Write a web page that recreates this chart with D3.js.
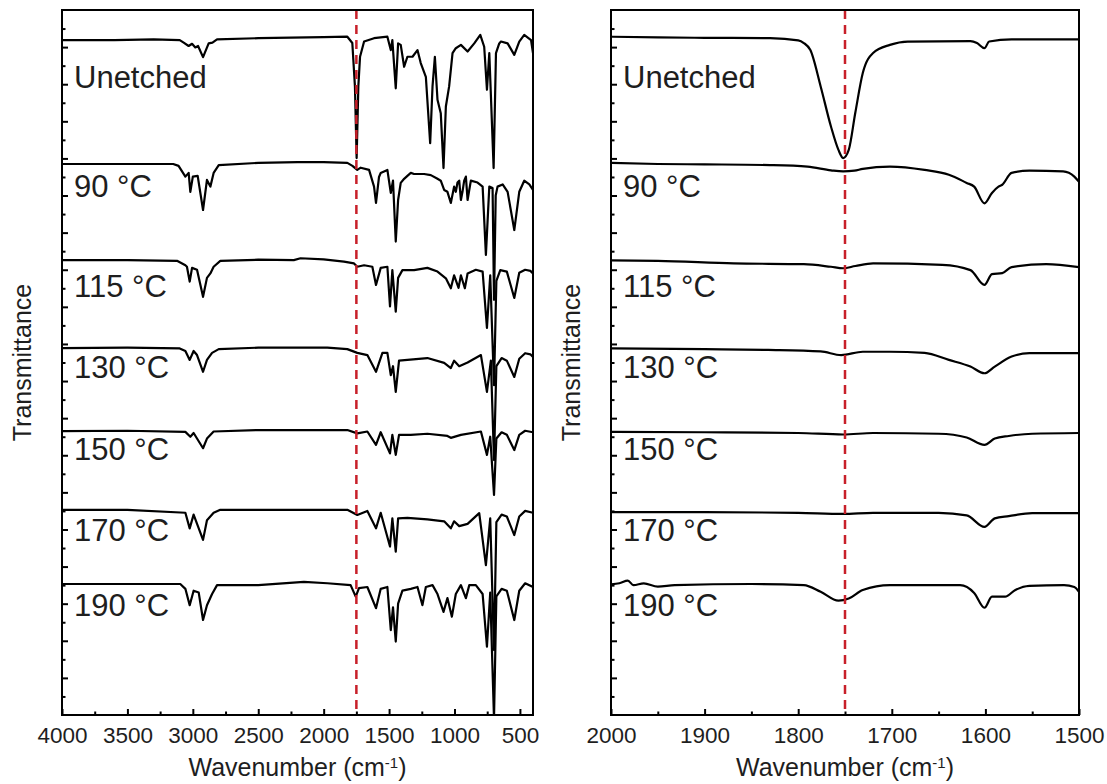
<!DOCTYPE html>
<html>
<head>
<meta charset="utf-8">
<script src="https://cdn.jsdelivr.net/npm/d3@7/dist/d3.min.js"></script>
<style>
  body { margin: 0; background: #fff; }
  svg text { font-family: "Liberation Sans", Arial, sans-serif; fill: #1e1e1e; }
</style>
</head>
<body>
<div id="chart"></div>
<script>
// sample names, top to bottom
var sampleLabels = ["Unetched", "90 °C", "115 °C", "130 °C", "150 °C", "170 °C", "190 °C"];

// full range spectra: [wavenumber (cm-1), transmittance incl. stacking offset]
var unetchedFull = [[4000,18.19],[3600,18.19],[3300,18.21],[3100,18.19],[3070,18.12],[3032,18.03],[3006,18.09],[2981,17.99],[2960,18.03],[2922,17.73],[2879,18.10],[2850,18.12],[2815,18.21],[2500,18.24],[2000,18.27],[1819,18.28],[1781,18.11],[1761,16.94],[1748,15.01],[1735,16.94],[1722,17.74],[1691,18.15],[1615,18.24],[1513,18.28],[1487,17.92],[1475,18.19],[1449,16.89],[1431,18.10],[1411,18.06],[1385,17.47],[1360,17.74],[1321,17.74],[1283,17.92],[1258,17.57],[1219,17.20],[1186,15.41],[1168,16.94],[1150,17.74],[1130,16.58],[1105,16.22],[1084,14.74],[1066,16.40],[1041,16.94],[1015,17.84],[990,17.97],[951,18.06],[900,17.88],[849,18.10],[803,18.33],[773,18.01],[752,16.85],[734,17.84],[701,14.74],[683,17.84],[658,18.10],[645,18.15],[594,18.10],[543,17.79],[505,18.15],[467,18.33],[415,18.19],[400,17.84]];
var t90Full = [[4000,14.85],[3500,14.85],[3150,14.85],[3109,14.80],[3057,14.51],[3032,14.61],[3019,14.10],[3000,14.51],[2963,14.53],[2922,13.61],[2892,14.42],[2866,14.24],[2841,14.61],[2802,14.82],[2500,14.88],[2200,14.90],[2000,14.90],[1819,14.88],[1780,14.80],[1743,14.69],[1717,14.75],[1653,14.69],[1615,14.24],[1600,13.80],[1577,14.50],[1564,14.61],[1513,14.69],[1487,14.07],[1470,14.40],[1449,12.76],[1431,13.88],[1411,14.34],[1385,14.45],[1360,14.53],[1334,14.61],[1309,14.58],[1232,14.58],[1181,14.55],[1130,14.45],[1105,14.40],[1079,14.15],[1054,14.10],[1028,13.80],[1003,14.24],[990,14.10],[977,14.35],[964,14.40],[951,13.88],[939,14.10],[926,14.40],[913,14.51],[900,13.88],[875,14.40],[824,14.35],[785,14.24],[760,12.40],[734,14.24],[709,14.20],[698,11.19],[685,14.00],[671,14.24],[632,14.30],[594,14.10],[543,13.07],[505,14.10],[467,14.40],[428,14.30],[400,14.15]];
var t115Full = [[4000,12.26],[3500,12.26],[3121,12.24],[3057,12.12],[3045,12.08],[3024,11.68],[3006,12.05],[2968,12.00],[2922,11.27],[2892,11.78],[2866,11.90],[2841,12.08],[2790,12.24],[2500,12.27],[2228,12.26],[2177,12.31],[2000,12.28],[1845,12.22],[1768,12.17],[1743,12.08],[1691,12.12],[1628,12.08],[1600,11.59],[1564,12.05],[1513,12.08],[1493,11.01],[1475,11.99],[1449,10.87],[1431,11.78],[1398,11.99],[1309,11.99],[1207,12.05],[1130,11.95],[1066,11.77],[1028,11.50],[1003,11.85],[969,11.51],[951,11.85],[921,11.50],[900,11.90],[837,12.00],[785,11.95],[752,10.43],[727,11.85],[698,8.89],[680,11.70],[650,11.99],[600,11.95],[543,11.24],[505,11.92],[460,12.00],[420,11.97],[400,11.90]];
var t130Full = [[4000,9.89],[3500,9.90],[3100,9.88],[3057,9.81],[3024,9.57],[2994,9.81],[2968,9.70],[2922,9.25],[2892,9.57],[2853,9.76],[2802,9.86],[2500,9.90],[1972,9.90],[1819,9.86],[1743,9.76],[1666,9.70],[1600,9.25],[1551,9.76],[1513,9.76],[1487,9.16],[1470,9.40],[1449,8.71],[1424,9.55],[1360,9.57],[1207,9.62],[1079,9.49],[1028,9.35],[1003,9.55],[964,9.40],[900,9.50],[798,9.70],[752,8.71],[722,9.55],[698,6.87],[680,9.40],[640,9.62],[600,9.55],[543,9.11],[505,9.60],[460,9.75],[420,9.72],[400,9.65]];
var t150Full = [[4000,7.65],[3500,7.66],[3057,7.63],[3019,7.50],[2994,7.60],[2922,7.19],[2892,7.45],[2841,7.64],[2500,7.68],[1819,7.68],[1743,7.59],[1666,7.64],[1600,7.28],[1564,7.62],[1493,7.05],[1475,7.55],[1449,7.01],[1424,7.55],[1334,7.55],[1207,7.58],[1054,7.52],[1028,7.47],[951,7.55],[798,7.64],[752,7.01],[727,7.50],[698,5.93],[680,7.45],[640,7.62],[600,7.55],[543,7.14],[505,7.55],[460,7.66],[400,7.62]];
var t170Full = [[4000,5.53],[3500,5.53],[3057,5.45],[3024,5.03],[2994,5.40],[2922,4.72],[2892,5.25],[2841,5.45],[2790,5.53],[1819,5.53],[1743,5.39],[1666,5.50],[1600,5.03],[1564,5.45],[1493,4.54],[1475,5.30],[1449,4.40],[1431,5.30],[1360,5.31],[1207,5.27],[1079,5.22],[1028,5.03],[1003,5.22],[964,5.09],[900,5.15],[811,5.44],[760,4.04],[727,5.30],[698,1.75],[680,5.20],[640,5.40],[600,5.35],[543,4.85],[505,5.35],[460,5.50],[400,5.45]];
var t190Full = [[4000,3.53],[3500,3.53],[3096,3.53],[3057,3.40],[3024,2.96],[2994,3.35],[2955,3.30],[2922,2.56],[2892,2.96],[2853,3.26],[2815,3.50],[2500,3.50],[2151,3.59],[1972,3.55],[1794,3.50],[1755,3.19],[1730,3.42],[1666,3.45],[1600,2.88],[1564,3.40],[1513,3.45],[1487,2.29],[1470,2.90],[1449,1.98],[1431,3.00],[1398,3.35],[1334,3.40],[1283,3.45],[1245,2.96],[1219,3.45],[1168,3.50],[1130,3.26],[1084,2.78],[1054,3.15],[1020,2.65],[990,3.26],[951,3.50],[913,3.15],[887,3.50],[837,3.50],[785,3.26],[752,1.84],[727,3.30],[698,-0.10],[680,3.20],[640,3.40],[600,3.35],[543,2.56],[505,3.35],[460,3.55],[400,3.45]];

// carbonyl region spectra (2000-1500 cm-1)
var unetchedZoom = [[2000,18.28],[1950,18.26],[1900,18.25],[1830,18.24],[1800,18.18],[1794,18.11],[1787,17.92],[1776,16.94],[1765,15.86],[1757,15.23],[1752,15.01],[1746,15.23],[1739,16.23],[1731,17.30],[1720,17.84],[1702,18.06],[1683,18.15],[1616,18.16],[1609,18.11],[1601,17.97],[1596,18.15],[1572,18.21],[1500,18.21]];
var t90Zoom = [[2000,14.88],[1950,14.85],[1900,14.84],[1830,14.82],[1790,14.78],[1765,14.68],[1752,14.65],[1740,14.67],[1731,14.72],[1702,14.78],[1665,14.69],[1639,14.56],[1620,14.34],[1612,14.24],[1601,13.79],[1593,14.07],[1586,14.24],[1582,14.29],[1572,14.61],[1553,14.67],[1517,14.65],[1505,14.51],[1500,14.37]];
var t115Zoom = [[2000,12.25],[1950,12.24],[1869,12.17],[1794,12.15],[1765,12.08],[1752,12.04],[1739,12.10],[1720,12.17],[1646,12.13],[1616,11.99],[1601,11.59],[1593,11.88],[1582,11.91],[1572,12.07],[1535,12.15],[1500,12.07]];
var t130Zoom = [[2000,9.88],[1900,9.86],[1832,9.84],[1776,9.80],[1754,9.70],[1731,9.79],[1702,9.79],[1665,9.76],[1639,9.57],[1616,9.39],[1601,9.21],[1590,9.39],[1572,9.66],[1553,9.75],[1500,9.75]];
var t150Zoom = [[2000,7.63],[1900,7.62],[1800,7.60],[1752,7.56],[1720,7.60],[1650,7.58],[1620,7.48],[1601,7.28],[1590,7.45],[1575,7.52],[1550,7.58],[1500,7.60]];
var t170Zoom = [[2000,5.47],[1900,5.47],[1800,5.45],[1752,5.42],[1720,5.45],[1650,5.45],[1620,5.38],[1601,5.07],[1590,5.30],[1575,5.36],[1550,5.44],[1500,5.44]];
var t190Zoom = [[2000,3.52],[1991,3.55],[1982,3.62],[1976,3.50],[1965,3.55],[1950,3.46],[1932,3.50],[1850,3.53],[1794,3.50],[1776,3.32],[1757,3.08],[1746,3.14],[1731,3.37],[1702,3.50],[1627,3.50],[1612,3.29],[1601,2.89],[1593,3.19],[1586,3.19],[1579,3.19],[1568,3.37],[1553,3.48],[1516,3.50],[1505,3.45],[1500,3.32]];

// axis ticks
var fullTicks = [4000, 3500, 3000, 2500, 2000, 1500, 1000, 500];
var fullMinorTicks = [3750, 3250, 2750, 2250, 1750, 1250, 750];
var zoomTicks = [2000, 1900, 1800, 1700, 1600, 1500];
var zoomMinorTicks = [1950, 1850, 1750, 1650, 1550];
var carbonylLine = 1750;

var fullSpectra = [unetchedFull, t90Full, t115Full, t130Full, t150Full, t170Full, t190Full];
var zoomSpectra = [unetchedZoom, t90Zoom, t115Zoom, t130Zoom, t150Zoom, t170Zoom, t190Zoom];

// layout
var svgWidth = 1107;
var svgHeight = 784;
var plotTop = 10;
var plotBottom = 715;
var labelBaselines = [88, 197, 297, 378, 460, 541, 616];

var svg = d3.select("#chart")
  .append("svg")
  .attr("width", svgWidth)
  .attr("height", svgHeight);

var yScale = d3.scaleLinear()
  .domain([0, 19])
  .range([plotBottom, plotTop]);

function drawPanel(opts) {
  var xScale = d3.scaleLinear()
    .domain(opts.domain)
    .range([opts.left, opts.right]);

  var g = svg.append("g");

  var clipId = "clip-" + opts.name;
  svg.append("clipPath")
    .attr("id", clipId)
    .append("rect")
    .attr("x", opts.left)
    .attr("y", plotTop)
    .attr("width", opts.right - opts.left)
    .attr("height", plotBottom - plotTop);

  // spectra
  var line = d3.line()
    .x(d => xScale(d[0]))
    .y(d => yScale(d[1]))
    .curve(opts.curve);

  g.append("g")
    .attr("clip-path", "url(#" + clipId + ")")
    .selectAll("path")
    .data(opts.spectra)
    .enter()
    .append("path")
    .attr("d", line)
    .attr("fill", "none")
    .attr("stroke", "#000")
    .attr("stroke-width", 2.2)
    .attr("stroke-linejoin", "round");

  // dashed marker at the carbonyl band
  g.append("line")
    .attr("x1", xScale(carbonylLine))
    .attr("x2", xScale(carbonylLine))
    .attr("y1", plotTop)
    .attr("y2", plotBottom)
    .attr("stroke", "#c8202a")
    .attr("stroke-width", 2.5)
    .attr("stroke-dasharray", "9,6");

  // sample labels
  g.selectAll("text.sample")
    .data(sampleLabels)
    .enter()
    .append("text")
    .attr("class", "sample")
    .attr("x", opts.left + 12)
    .attr("y", (d, i) => labelBaselines[i])
    .attr("font-size", "31px")
    .text(d => d);

  // x axis, ticks pointing inward
  var xAxis = g.append("g")
    .attr("transform", `translate(0, ${plotBottom})`)
    .call(d3.axisBottom(xScale).tickValues(opts.ticks).tickFormat(d3.format("d")).tickSize(-6).tickPadding(12));
  xAxis.select(".domain").remove();
  xAxis.selectAll("line").attr("stroke-width", 2);
  xAxis.selectAll("text").attr("font-size", "22.5px").attr("fill", "#1e1e1e");

  var xMinor = g.append("g")
    .attr("transform", `translate(0, ${plotBottom})`)
    .call(d3.axisBottom(xScale).tickValues(opts.minorTicks).tickSize(-3.5).tickFormat(""));
  xMinor.select(".domain").remove();
  xMinor.selectAll("line").attr("stroke-width", 2);

  // y axis, unlabelled
  var yAxis = g.append("g")
    .attr("transform", `translate(${opts.left}, 0)`)
    .call(d3.axisLeft(yScale).tickValues(d3.range(1, 19)).tickSize(-6).tickFormat(""));
  yAxis.select(".domain").remove();
  yAxis.selectAll("line").attr("stroke-width", 2);

  var yMinor = g.append("g")
    .attr("transform", `translate(${opts.left}, 0)`)
    .call(d3.axisLeft(yScale).tickValues(d3.range(0.5, 19, 1)).tickSize(-3.5).tickFormat(""));
  yMinor.select(".domain").remove();
  yMinor.selectAll("line").attr("stroke-width", 2);

  // frame
  g.append("rect")
    .attr("x", opts.left)
    .attr("y", plotTop)
    .attr("width", opts.right - opts.left)
    .attr("height", plotBottom - plotTop)
    .attr("fill", "none")
    .attr("stroke", "#000")
    .attr("stroke-width", 2);

  // axis titles
  var xTitle = g.append("text")
    .attr("x", (opts.left + opts.right) / 2)
    .attr("y", 776)
    .attr("text-anchor", "middle")
    .attr("font-size", "25px");
  xTitle.append("tspan").text("Wavenumber (cm");
  xTitle.append("tspan").attr("baseline-shift", "super").attr("font-size", "15px").text("-1");
  xTitle.append("tspan").text(")");

  g.append("text")
    .attr("transform", `translate(${opts.titleX}, ${(plotTop + plotBottom) / 2}) rotate(-90)`)
    .attr("text-anchor", "middle")
    .attr("dy", "0.35em")
    .attr("font-size", "25px")
    .text("Transmittance");
}

drawPanel({
  name: "full",
  domain: [4000, 400],
  left: 62,
  right: 533,
  ticks: fullTicks,
  minorTicks: fullMinorTicks,
  spectra: fullSpectra,
  curve: d3.curveLinear,
  titleX: 22
});

drawPanel({
  name: "zoom",
  domain: [2000, 1500],
  left: 611,
  right: 1079,
  ticks: zoomTicks,
  minorTicks: zoomMinorTicks,
  spectra: zoomSpectra,
  curve: d3.curveMonotoneX,
  titleX: 571
});
</script>
</body>
</html>
